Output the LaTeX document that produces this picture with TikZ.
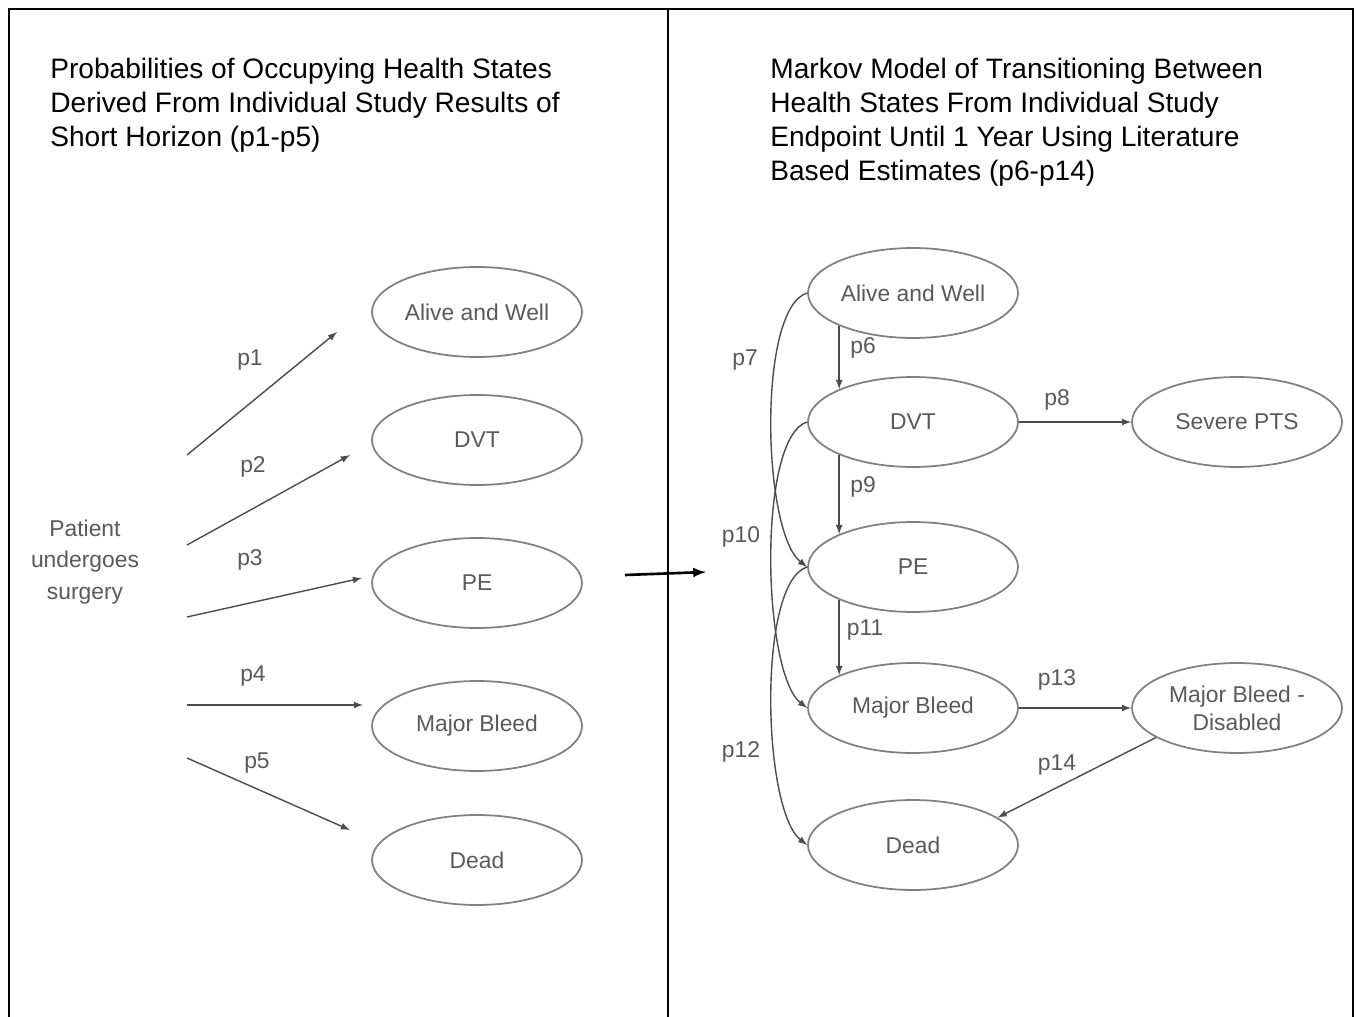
\documentclass[tikz,border=0pt]{standalone}
\usepackage{fontspec}
\setmainfont{Liberation Sans}
\usepackage{tikz}
\usetikzlibrary{arrows,shapes.geometric}
\definecolor{linegray}{gray}{0.3}
\definecolor{rimgray}{gray}{0.5}
\definecolor{textgray}{gray}{0.35}

\begin{document}
\begin{tikzpicture}[x=0.02cm,y=-0.02cm,
	state/.style={ellipse,draw=rimgray,line width=1pt,minimum width=4.2cm,minimum height=1.8cm,inner sep=0pt,text=textgray,font=\fontsize{13}{16}\selectfont,align=center},
	lab/.style={text=textgray,font=\fontsize{13}{16}\selectfont,inner sep=0pt},
	arr/.style={-latex,draw=linegray,line width=0.8pt},
	title/.style={anchor=north west,align=left,inner sep=0pt,font=\fontsize{16}{19.3}\selectfont}]
		\useasboundingbox (0,0) rectangle (1356,1017);
		\draw[line width=1.6pt] (9,1017) -- (9,9) -- (1353,9) -- (1353,1017); % frame
		\draw[line width=1.6pt] (668,9) -- (668,1017);
		\node[title] (ltitle) at (50,58) {Probabilities of Occupying Health States\\Derived From Individual Study Results of\\Short Horizon (p1-p5)};
		\node[title] (rtitle) at (770,58) {Markov Model of Transitioning Between\\Health States From Individual Study\\Endpoint Until 1 Year Using Literature\\Based Estimates (p6-p14)};
		% left panel
		\node[lab,align=center,font=\fontsize{13}{18}\selectfont] (pat) at (85,562) {Patient\\undergoes\\surgery};
		\foreach \name/\y/\txt in {law/312/Alive and Well,ldvt/440/DVT,lpe/583/PE,lmb/726/Major Bleed,ldead/860/Dead}
		\node[state] (\name) at (477,\y) {\txt};
		\foreach \i/\xa/\ya/\xb/\yb/\xl/\yl in {1/187/455/337/332/250/360,2/187/545/350/455/253/467,3/187/617/362/578/250/560,4/187/705/363/705/253/676,5/187/758/350/830/257/763}
		{
		\coordinate (s\i) at (\xa,\ya);
		\coordinate (e\i) at (\xb,\yb);
		\draw[arr] (s\i) -- (e\i);
		\node[lab] (p\i) at (\xl,\yl) {p\i};
		}
		\coordinate (gap1) at (625,575);
		\coordinate (gap2) at (706,572);
		\draw[-latex,line width=1.5pt] (gap1) -- (gap2);
		% right panel
		\foreach \name/\y/\txt in {raw/293/Alive and Well,rdvt/422/DVT,rpe/567/PE,rmb/708/Major Bleed,rdead/845/Dead}
		\node[state] (\name) at (913,\y) {\txt};
		\node[state] (pts) at (1237,422) {Severe PTS};
		\node[state] (mbd) at (1237,708) {Major Bleed -\\Disabled};
		\draw[arr] (raw.204) -- (rdvt.156);
		\draw[arr] (rdvt.204) -- (rpe.156);
		\draw[arr] (rpe.204) -- (rmb.156);
		\draw[arr] (rdvt) -- (pts);
		\draw[arr] (rmb) -- (mbd);
		\draw[arr] (mbd.200) -- (rdead.18);
		\draw[arr] (raw.west) .. controls +(-50,15) and +(-45,-35) .. (rpe.west);
		\draw[arr] (rdvt.west) .. controls +(-50,15) and +(-45,-35) .. (rmb.west);
		\draw[arr] (rpe.west) .. controls +(-50,15) and +(-45,-35) .. (rdead.west);
		\foreach \i/\xl/\yl in {6/863/348,7/745/360,8/1057/400,9/863/487,10/741/537,11/865/630,12/741/752,13/1057/680,14/1057/765}
		\node[lab] (p\i) at (\xl,\yl) {p\i};
\end{tikzpicture}
\end{document}
